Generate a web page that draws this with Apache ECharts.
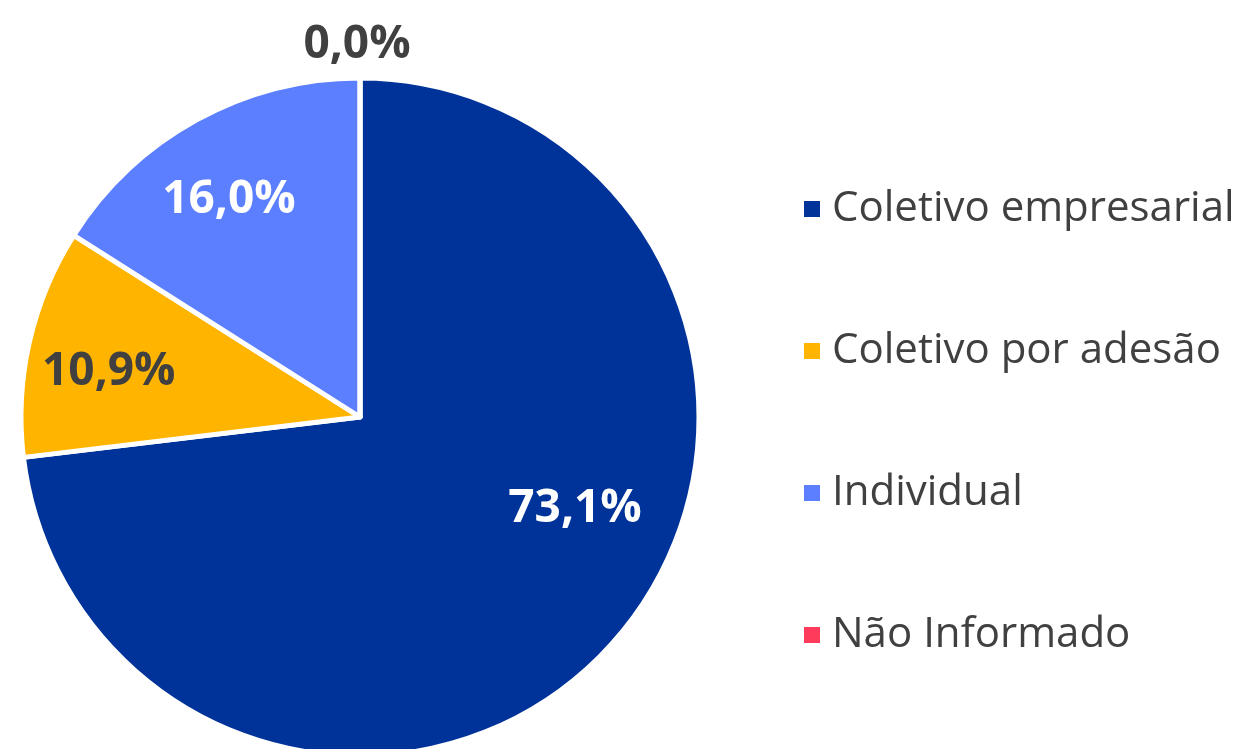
<!DOCTYPE html>
<html><head><meta charset="utf-8">
<script src="https://cdn.jsdelivr.net/npm/echarts@6/dist/echarts.min.js"></script>
<style>html,body{margin:0;padding:0;background:#fff}#c{width:1242px;height:749px}</style>
</head><body><div id="c"></div>
<script>
const categories = ['Coletivo empresarial', 'Coletivo por adesão', 'Individual', 'Não Informado'];
const values = [73.1, 10.9, 16.0, 0.0];
const colors = ['#003399', '#FFB400', '#5B7FFF', '#FF3B5C'];
const labelColors = ['#FFFFFF', '#404040', '#FFFFFF', '#404040'];
const labelOffsets = [[86, -23], [-83, -7], [-48, -66], [-3, -200]];

const chart = echarts.init(document.getElementById('c'), null, {renderer: 'canvas'});
chart.setOption({
  animation: false,
  legend: {
    orient: 'vertical',
    left: 797,
    top: 183,
    itemWidth: 18,
    itemHeight: 18,
    itemGap: 100,
    icon: 'rect',
    data: categories,
    textStyle: {fontFamily: 'Open Sans', fontSize: 42, color: '#404040', padding: [0, 0, 0, 6]}
  },
  series: [{
    type: 'pie',
    center: [360, 417],
    radius: 339,
    startAngle: 90,
    clockwise: true,
    avoidLabelOverlap: false,
    itemStyle: {borderColor: '#fff', borderWidth: 5},
    label: {
      position: 'inside',
      fontFamily: 'Open Sans',
      fontWeight: 'bold',
      fontSize: 46,
      formatter: p => p.value.toFixed(1).replace('.', ',') + '%'
    },
    labelLine: {show: false},
    emphasis: {disabled: true},
    data: categories.map((n, i) => ({
      name: n,
      value: values[i],
      itemStyle: {color: colors[i]},
      label: {color: labelColors[i], offset: labelOffsets[i]}
    }))
  }]
});
</script></body></html>
